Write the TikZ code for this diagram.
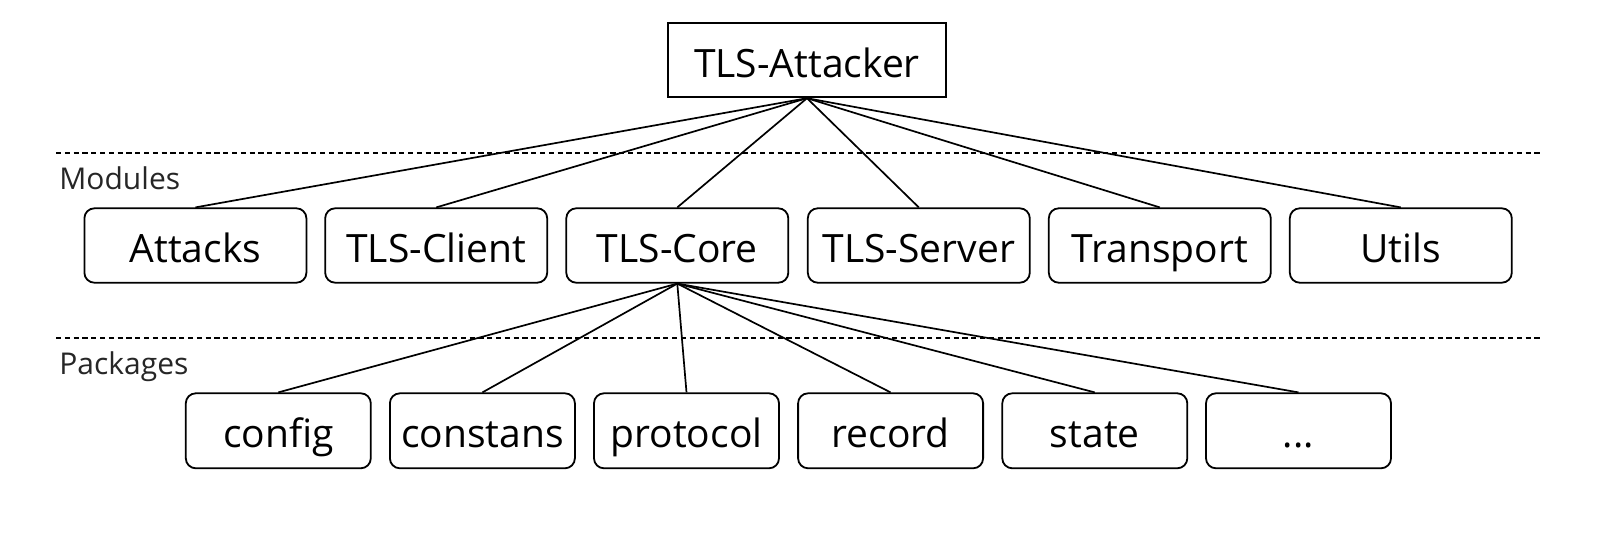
\documentclass[tikz,border=0pt]{standalone}
\usepackage{fontspec}
\setmainfont{Open Sans}
\begin{document}
\begin{tikzpicture}[x=0.5pt,y=-0.5pt,
  boxbase/.style={draw, line width=0.9pt, inner sep=0pt, font=\fontsize{19.5pt}{22pt}\selectfont,
    text height=17pt, text depth=0pt, align=center},
  topbox/.style={boxbase, minimum width=139.3pt, minimum height=37.3pt},
  modbox/.style={boxbase, rounded corners=5pt, minimum width=111pt, minimum height=37.2pt},
  pkgbox/.style={boxbase, rounded corners=5pt, minimum width=92.5pt, minimum height=37.5pt},
  edge/.style={line width=0.85pt},
  sep/.style={line width=0.85pt, dash pattern=on 2.6pt off 1.8pt},
  lvl/.style={anchor=base west, inner sep=0pt, font=\fontsize{15pt}{18pt}\selectfont, text=black!85}]
\useasboundingbox (0,0) rectangle (1613,536);

% separators
\coordinate (s1a) at (56,152.7);
\coordinate (s1b) at (1540,152.7);
\coordinate (s2a) at (56,338.3);
\coordinate (s2b) at (1540,338.3);
\draw[sep] (s1a) -- (s1b);
\draw[sep] (s2a) -- (s2b);

\node[lvl] (lmod) at (59,189.3) {Modules};
\node[lvl] (lpkg) at (59,374.5) {Packages};

% top
\node[topbox] (att) at (807,60) {TLS-Attacker};

% modules
\node[modbox] (m1) at (195.4,245.5) {Attacks};
\node[modbox] (m2) at (436.2,245.5) {TLS-Client};
\node[modbox] (m3) at (677.3,245.5) {TLS-Core};
\node[modbox] (m4) at (918.8,245.5) {TLS-Server};
\node[modbox] (m5) at (1159.8,245.5) {Transport};
\node[modbox] (m6) at (1400.8,245.5) {Utils};

% packages
\node[pkgbox] (p1) at (278.3,430.8) {config};
\node[pkgbox] (p2) at (482.4,430.8) {constans};
\node[pkgbox] (p3) at (686.5,430.8) {protocol};
\node[pkgbox] (p4) at (890.6,430.8) {record};
\node[pkgbox] (p5) at (1094.8,430.8) {state};
\node[pkgbox] (p6) at (1298.5,430.8) {...};

\foreach \m in {m1,m2,m3,m4,m5,m6}
  \draw[edge] (att.south) -- (\m.north);
\foreach \p in {p1,p2,p3,p4,p5,p6}
  \draw[edge] (m3.south) -- (\p.north);
\end{tikzpicture}
\end{document}
